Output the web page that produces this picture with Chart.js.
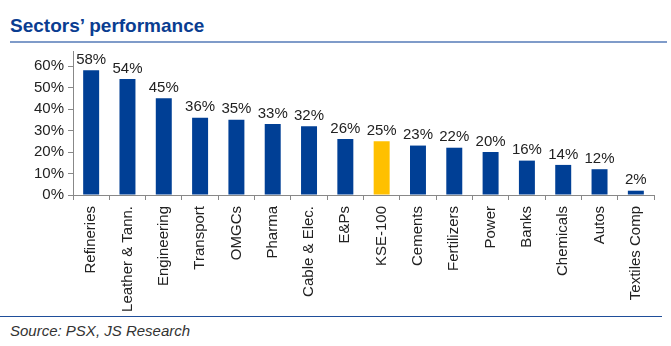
<!DOCTYPE html>
<html>
<head>
<meta charset="utf-8">
<script src="https://cdn.jsdelivr.net/npm/chart.js@4"></script>
<style>
    body { margin: 0; width: 671px; height: 346px; background: #fff; position: relative; overflow: hidden; font-family: Arial, "Liberation Sans", sans-serif; }
    #title { position: absolute; left: 10px; top: 15px; font-size: 19px; font-weight: bold; color: #0a3d91; white-space: nowrap; }
    #title-rule { position: absolute; left: 10px; top: 41px; width: 657px; height: 2px; background: #7f9bc9; }
    #chart-box { position: absolute; left: 0; top: 38px; width: 671px; height: 276px; }
    #foot-rule { position: absolute; left: 0; top: 316px; width: 662px; height: 1px; background: #1f4e9a; }
    #source { position: absolute; left: 10px; top: 322px; font-size: 15px; font-style: italic; color: #333; white-space: nowrap; }
</style>
</head>
<body>
<div id="title">Sectors’ performance</div>
<div id="title-rule"></div>
<div id="chart-box"><canvas id="sectorsChart" width="671" height="276"></canvas></div>
<div id="foot-rule"></div>
<div id="source">Source: PSX, JS Research</div>

<script>
// Sector returns (%)
const sectors = ['Refineries', 'Leather & Tann.', 'Engineering', 'Transport', 'OMGCs', 'Pharma',
    'Cable & Elec.', 'E&Ps', 'KSE-100', 'Cements', 'Fertilizers', 'Power', 'Banks',
    'Chemicals', 'Autos', 'Textiles Comp'];
const returns = [58, 54, 45, 36, 35, 33, 32, 26, 25, 23, 22, 20, 16, 14, 12, 2];
const highlight = 'KSE-100';
const yTicks = [0, 10, 20, 30, 40, 50, 60];

const barColors = sectors.map(s => s === highlight ? '#ffc000' : '#003f95');

// Value labels above each bar
const valueLabels = {
    id: 'valueLabels',
    afterDatasetsDraw(chart) {
        const ctx = chart.ctx;
        const meta = chart.getDatasetMeta(0);
        ctx.save();
        ctx.font = '15px Arial, "Liberation Sans", sans-serif';
        ctx.fillStyle = '#222';
        ctx.textAlign = 'center';
        ctx.textBaseline = 'bottom';
        meta.data.forEach((bar, i) => {
            ctx.fillText(returns[i] + '%', bar.x, bar.y - 3);
        });
        ctx.restore();
    }
};

new Chart(document.getElementById('sectorsChart').getContext('2d'), {
    type: 'bar',
    data: {
        labels: sectors,
        datasets: [{
            data: returns,
            backgroundColor: barColors,
            borderWidth: 0,
            barPercentage: 0.44,
            categoryPercentage: 1
        }]
    },
    options: {
        responsive: false,
        animation: false,
        layout: { padding: { top: 5, right: 17, left: 0, bottom: 0 } },
        plugins: {
            legend: { display: false },
            tooltip: { enabled: false }
        },
        scales: {
            y: {
                min: 0,
                max: 67,
                afterBuildTicks: scale => { scale.ticks = yTicks.map(v => ({ value: v })); },
                afterFit: scale => { scale.width = 73; },
                ticks: {
                    color: '#222',
                    padding: 4,
                    font: { family: 'Arial, "Liberation Sans", sans-serif', size: 15 },
                    callback: v => v + '%'
                },
                grid: { drawOnChartArea: false, drawTicks: true, tickLength: 5, color: '#888' },
                border: { color: '#888', width: 1 }
            },
            x: {
                afterFit: scale => { scale.height = 119; },
                ticks: {
                    color: '#222',
                    minRotation: 90,
                    maxRotation: 90,
                    autoSkip: false,
                    padding: 6,
                    font: { family: 'Arial, "Liberation Sans", sans-serif', size: 15 }
                },
                grid: { offset: true, drawOnChartArea: false, drawTicks: true, tickLength: 5, color: '#888' },
                border: { color: '#888', width: 1 }
            }
        }
    },
    plugins: [valueLabels]
});
</script>
</body>
</html>
